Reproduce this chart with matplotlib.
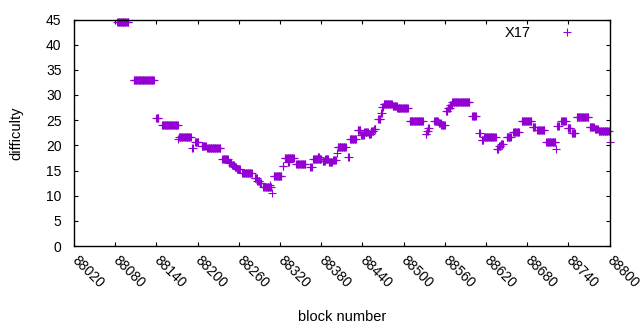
import numpy as np
import matplotlib
matplotlib.use("Agg")
import matplotlib.pyplot as plt

seg_start = [88083, 88107, 88140, 88148, 88172, 88173, 88192, 88196, 88206, 88214,
             88236, 88246, 88250, 88254, 88257, 88265, 88283, 88287, 88291, 88296,
             88306, 88308, 88311, 88324, 88327, 88331, 88344, 88364, 88368, 88375,
             88382, 88386, 88391, 88397, 88403, 88404, 88419, 88422, 88433, 88438,
             88443, 88449, 88453, 88457, 88463, 88467, 88469, 88471, 88484, 88491,
             88509, 88532, 88534, 88536, 88545, 88551, 88555, 88562, 88565, 88568,
             88571, 88600, 88610, 88614, 88617, 88636, 88639, 88642, 88650, 88660,
             88672, 88688, 88695, 88708, 88722, 88724, 88730, 88739, 88745, 88752,
             88771, 88779, 88784, 88800]
seg_end = [88099, 88136, 88143, 88171, 88172, 88190, 88193, 88201, 88212, 88233,
           88244, 88249, 88253, 88256, 88262, 88279, 88286, 88290, 88293, 88307,
           88306, 88308, 88322, 88325, 88340, 88333, 88357, 88366, 88380, 88377,
           88385, 88390, 88396, 88401, 88403, 88416, 88420, 88431, 88437, 88442,
           88448, 88452, 88456, 88459, 88466, 88468, 88470, 88483, 88490, 88506,
           88528, 88533, 88535, 88537, 88550, 88554, 88560, 88564, 88567, 88570,
           88596, 88605, 88611, 88616, 88634, 88638, 88641, 88645, 88656, 88668,
           88686, 88691, 88705, 88721, 88722, 88726, 88736, 88743, 88750, 88769,
           88777, 88783, 88799, 88800]
seg_diff = [44.5, 32.9, 25.4, 24.0, 21.2, 21.6, 19.5, 20.6, 19.95, 19.4,
            17.2, 16.5, 16.0, 15.6, 15.2, 14.5, 13.6, 13.0, 12.5, 11.8,
            12.2, 10.6, 14.0, 15.9, 17.4, 16.7, 16.2, 15.6, 17.3, 17.7,
            16.8, 17.2, 16.7, 17.0, 18.4, 19.6, 17.7, 21.2, 23.0, 22.1,
            22.7, 22.2, 22.8, 23.3, 25.3, 26.4, 27.6, 28.2, 27.9, 27.5,
            24.9, 22.3, 22.9, 23.5, 24.9, 24.5, 24.0, 26.9, 27.5, 28.0,
            28.55, 25.9, 22.4, 21.0, 21.6, 19.3, 19.9, 20.3, 21.7, 22.7,
            24.9, 23.7, 23.05, 20.7, 19.2, 23.8, 24.8, 23.5, 22.4, 25.6,
            23.6, 23.3, 22.9, 20.6]

blocks = np.concatenate([np.arange(s, e + 1) for s, e in zip(seg_start, seg_end)])
diff = np.concatenate([np.full(e - s + 1, d) for s, e, d in zip(seg_start, seg_end, seg_diff)])

xticks = np.arange(88020, 88801, 60)
yticks = np.arange(0, 46, 5)

plt.rcParams['font.family'] = ['Liberation Sans', 'DejaVu Sans']
plt.rcParams['font.size'] = 10

fig = plt.figure(figsize=(6.4, 3.3), dpi=100)
ax = fig.add_axes([74 / 640, 1 - 246 / 330, 535.5 / 640, 226.5 / 330])

ax.plot(blocks, diff, linestyle='none', marker='+', markersize=5.2,
        markeredgewidth=0.8, color='#9400d3', label='X17', clip_on=False)

ax.set_xlim(88020, 88800)
ax.set_ylim(0, 45)
ax.set_xticks(xticks)
ax.set_yticks(yticks)
ax.set_xticklabels([str(t) for t in xticks], rotation=-45, ha='left',
                   va='center', rotation_mode='anchor')
ax.tick_params(direction='in', top=True, right=True, length=3, width=0.8,
               labelsize=10)
ax.tick_params(axis='y', pad=9)
ax.tick_params(axis='x', pad=9)
for sp in ax.spines.values():
    sp.set_linewidth(1.0)

ax.set_xlabel('block number', fontsize=10.5)
ax.xaxis.set_label_coords(0.5, -0.282)
ax.set_ylabel('difficulty', fontsize=10.5)
ax.yaxis.set_label_coords(-0.094, 0.5)

ax.legend(loc='upper right', bbox_to_anchor=(0.974, 1.018), markerfirst=False,
          frameon=False, handlelength=2.5, handletextpad=1.25, fontsize=10.5,
          borderaxespad=0.3)

fig.savefig('out.png', dpi=100)
